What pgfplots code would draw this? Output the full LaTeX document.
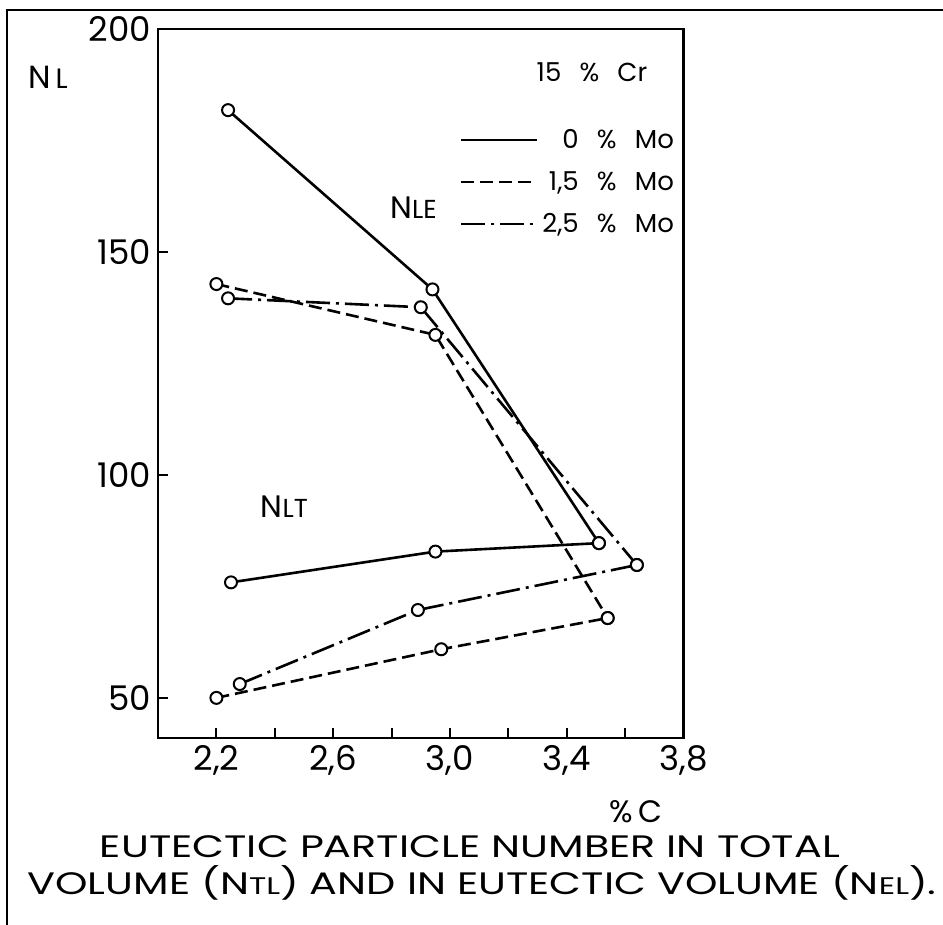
\documentclass[border=0pt]{standalone}
\usepackage{fontspec}
\setmainfont{Poppins}
\usepackage{graphicx}
\usepackage{pgfplots}
\pgfplotsset{compat=1.18}

\begin{document}
\begin{tikzpicture}
\begin{axis}[
    at={(0pt,0pt)}, anchor=south west,
    scale only axis,
    width=262.8pt, height=354.5pt,
    xmin=2.0, xmax=3.8, ymin=41, ymax=200,
    axis line style={line width=1.3pt},
    xtick={2.2,2.6,3.0,3.4,3.8},
    minor xtick={2.4,2.8,3.2,3.6},
    ytick={50,100,150,200},
    xtick pos=bottom, ytick pos=left,
    tick align=inside,
    major tick length=5pt, minor tick length=5pt,
    every tick/.style={line width=1pt, black},
    ticklabel style={font=\fontsize{17}{17}\selectfont},
    xticklabel style={/pgf/number format/fixed, /pgf/number format/fixed zerofill,
        /pgf/number format/precision=1, /pgf/number format/use comma,
        /pgf/number format/assume math mode=true},
    yticklabel style={/pgf/number format/assume math mode=true},
    every axis plot/.append style={black, line width=1.3pt},
    mark size=3pt,
    legend style={draw=none, fill=none, at={(0.99,0.865)}, anchor=north east,
        font=\fontsize{13}{13}\selectfont, row sep=6pt, inner sep=0pt},
    legend cell align=right,
    legend image code/.code={\draw[#1] (0pt,0pt) -- (38pt,0pt);},
]
% NLE (eutectic volume)
\addplot[solid, mark=*, mark options={fill=white, solid, line width=1pt}]
    coordinates {(2.24,181.8) (2.94,141.6) (3.51,84.7)};
\addplot[dash pattern=on 6.5pt off 3pt, mark=*, mark options={fill=white, solid, line width=1pt}]
    coordinates {(2.20,142.8) (2.95,131.4) (3.54,67.9)};
\addplot[dash pattern=on 12pt off 3pt on 1.5pt off 3pt, mark=*, mark options={fill=white, solid, line width=1pt}]
    coordinates {(2.24,139.6) (2.90,137.6) (3.64,79.8)};
% NLT (total volume)
\addplot[solid, forget plot, mark=*, mark options={fill=white, solid, line width=1pt}]
    coordinates {(2.25,75.9) (2.95,82.8) (3.51,84.7)};
\addplot[dash pattern=on 6.5pt off 3pt, forget plot, mark=*, mark options={fill=white, solid, line width=1pt}]
    coordinates {(2.20,50.0) (2.97,60.9) (3.54,67.9)};
\addplot[dash pattern=on 12pt off 3pt on 1.5pt off 3pt, forget plot, mark=*, mark options={fill=white, solid, line width=1pt}]
    coordinates {(2.28,53.1) (2.89,69.7) (3.64,79.8)};
\legend{{0\hspace{0.7em}\%\hspace{0.7em}Mo}, {1,5\hspace{0.7em}\%\hspace{0.7em}Mo}, {2,5\hspace{0.7em}\%\hspace{0.7em}Mo}}

\node[font=\fontsize{15.5}{15.5}\selectfont] at (axis cs:2.875,159.9) {N{\fontsize{13}{13}\selectfont LE}};
\node[font=\fontsize{15.5}{15.5}\selectfont] at (axis cs:2.433,92.8) {N{\fontsize{13}{13}\selectfont LT}};
\end{axis}

\node[font=\fontsize{13}{13}\selectfont] at (217pt,333pt) {15\hspace{0.7em}\%\hspace{0.7em}Cr};
\node[font=\fontsize{16}{16}\selectfont] at (-55pt,330.5pt) {N{\fontsize{14}{14}\selectfont\,L}};
\node[font=\fontsize{15.5}{15.5}\selectfont] at (239pt,-37pt) {\%\,C};
\node[font=\fontsize{15.5}{15.5}\selectfont] at (156pt,-54.5pt)
    {\resizebox{370pt}{\height}{EUTECTIC PARTICLE NUMBER IN TOTAL}};
\node[font=\fontsize{15.5}{15.5}\selectfont] at (162pt,-72.5pt)
    {\resizebox{454.5pt}{\height}{VOLUME (N{\fontsize{12}{12}\selectfont TL}) AND IN EUTECTIC VOLUME (N{\fontsize{12}{12}\selectfont EL}).}};

% frame of the original figure
\draw[line width=0.8pt] (-75.5pt,-93.5pt) -- (-75.5pt,364pt) -- (392.5pt,364pt);

\pgfresetboundingbox
\path[use as bounding box] (-79pt,-93.5pt) rectangle (392.5pt,369pt);
\end{tikzpicture}
\end{document}
